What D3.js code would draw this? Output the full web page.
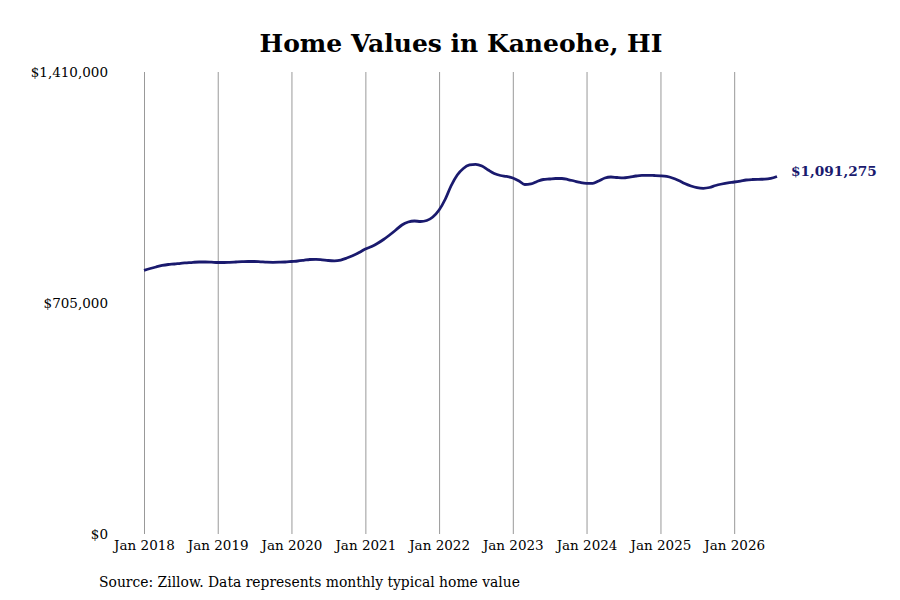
<!DOCTYPE html>
<html>
<head>
<meta charset="utf-8">
<script src="https://cdn.jsdelivr.net/npm/d3@7"></script>
<style>
  body { margin: 0; background: #fff; }
  text { font-family: "DejaVu Serif", serif; }
</style>
</head>
<body>
<div id="chart"></div>
<script>
// monthly typical home value, Jan 2018 .. Aug 2026
const startMonth = "2018-01";
const values = [
  804800, 810300, 814900, 819500, 822500, 824000, 826200, 827700, 829200, 830100, 830100, 829500,
  828600, 828600, 829200, 830100, 831000, 831700, 831700, 830700, 829500, 829200, 829500, 830100,
  831700, 833200, 835300, 837800, 838400, 836800, 834700, 833800, 836200, 842300, 850000, 859100,
  869800, 877400, 886600, 898800, 912500, 927800, 943000, 952200, 955300, 953700, 956800, 967500,
  988800, 1022400, 1062100, 1095600, 1115500, 1126200, 1128300, 1123100, 1110900, 1100200, 1094100, 1091100,
  1086500, 1077300, 1066600, 1068200, 1075800, 1081900, 1083400, 1085000, 1085000, 1081900, 1077300, 1072800,
  1070300, 1070300, 1077300, 1086500, 1089500, 1088000, 1087100, 1089500, 1092600, 1094700, 1094700, 1094100,
  1093200, 1091100, 1086500, 1078900, 1069700, 1062100, 1056900, 1055100, 1057500, 1063600, 1068200, 1071800,
  1074300, 1077300, 1080400, 1081900, 1082500, 1082800, 1085000, 1091275
];
const yTicks = [0, 705000, 1410000];
const xTickYears = [2018, 2019, 2020, 2021, 2022, 2023, 2024, 2025, 2026];
const title = "Home Values in Kaneohe, HI";
const source = "Source: Zillow. Data represents monthly typical home value";

const width = 900, height = 600;
const margin = {top: 72, right: 122, bottom: 66, left: 144};

const parse = d3.timeParse("%Y-%m");
const t0 = parse(startMonth);
const data = values.map((v, i) => ({date: d3.timeMonth.offset(t0, i), value: v}));

const svg = d3.select("#chart")
  .append("svg")
  .attr("width", width)
  .attr("height", height);

const x = d3.scaleTime()
  .domain([new Date(2018, 0, 1), new Date(2026, 7, 1)])
  .range([margin.left, width - margin.right - 1]);

const y = d3.scaleLinear()
  .domain([0, 1410000])
  .range([height - margin.bottom, margin.top]);

// title
svg.append("text")
  .attr("x", 461)
  .attr("y", 52)
  .attr("text-anchor", "middle")
  .style("font-size", "25px")
  .style("font-weight", "bold")
  .style("fill", "#000")
  .text(title);

// vertical gridlines + x labels
const xAxis = svg.append("g")
  .attr("transform", `translate(0,${height - margin.bottom})`)
  .call(d3.axisBottom(x)
    .tickValues(xTickYears.map(yr => new Date(yr, 0, 1)))
    .tickSize(-(height - margin.top - margin.bottom))
    .tickPadding(6)
    .tickFormat(d3.timeFormat("Jan %Y")));
xAxis.select(".domain").remove();
xAxis.selectAll("line").attr("stroke", "#999").attr("stroke-width", 1);
xAxis.selectAll("text")
  .style("font-family", "DejaVu Serif, serif")
  .style("font-size", "13.5px")
  .style("fill", "#000");

// y labels
const yAxis = svg.append("g")
  .attr("transform", "translate(108,0)")
  .call(d3.axisLeft(y)
    .tickValues(yTicks)
    .tickSize(0)
    .tickPadding(0)
    .tickFormat(d => "$" + d3.format(",")(d)));
yAxis.select(".domain").remove();
yAxis.selectAll("text")
  .style("font-family", "DejaVu Serif, serif")
  .style("font-size", "13.5px")
  .style("fill", "#000");

// line
const line = d3.line()
  .x(d => x(d.date))
  .y(d => y(d.value))
  .curve(d3.curveMonotoneX);

svg.append("path")
  .datum(data)
  .attr("fill", "none")
  .attr("stroke", "#1a1a6e")
  .attr("stroke-width", 2.8)
  .attr("d", line);

// end label
const last = data[data.length - 1];
svg.append("text")
  .attr("x", x(last.date) + 14)
  .attr("y", y(last.value) - 5)
  .attr("dy", "0.35em")
  .style("font-size", "13.7px")
  .style("font-weight", "bold")
  .style("fill", "#1a1a6e")
  .text("$" + d3.format(",")(last.value));

// source note
svg.append("text")
  .attr("x", 99)
  .attr("y", 587)
  .style("font-size", "13.9px")
  .style("fill", "#000")
  .text(source);
</script>
</body>
</html>
